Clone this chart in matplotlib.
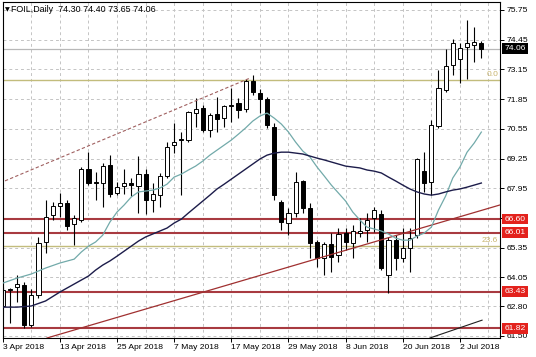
import matplotlib
matplotlib.use("Agg")
import matplotlib.pyplot as plt
import matplotlib.transforms as mtransforms
from matplotlib.patches import Rectangle

plt.rcParams['font.family'] = ['Liberation Sans', 'DejaVu Sans']

# ---- data (daily bars, 3 Apr 2018 .. 5 Jul 2018) ----
symbol = "FOIL,Daily"
last_ohlc = [74.30, 74.40, 73.65, 74.06]

opens = [62.80, 63.50, 63.63, 63.72, 61.96, 63.28, 65.60, 66.78, 67.17, 67.30,
         66.39, 66.56, 68.79, 68.22, 68.18, 68.97, 67.74, 68.05, 68.18, 68.05,
         68.57, 67.43, 67.65, 68.49, 69.84, 70.10, 70.06, 71.24, 71.46, 70.50,
         71.20, 71.02, 71.55, 71.68, 71.42, 72.64, 72.12, 71.86, 70.63, 67.35,
         66.43, 66.87, 68.27, 67.09, 65.60, 64.90, 65.51, 65.03, 65.99, 65.55,
         65.99, 66.12, 66.65, 66.82, 64.15, 65.68, 64.90, 65.33, 65.90, 68.70,
         68.22, 70.67, 72.25, 73.34, 73.61, 74.13, 74.22, 74.30]
highs = [63.63, 63.58, 64.15, 63.85, 63.54, 65.82, 67.43, 67.35, 67.74, 67.43,
         66.78, 68.88, 69.53, 68.66, 69.05, 69.40, 68.22, 68.79, 68.40, 69.36,
         68.79, 68.18, 68.62, 69.97, 70.80, 70.41, 71.33, 71.90, 71.59, 71.24,
         71.94, 71.59, 72.34, 71.90, 72.73, 72.91, 72.29, 71.94, 70.80, 67.43,
         67.09, 68.66, 68.30, 67.30, 65.68, 65.60, 65.99, 66.21, 66.21, 66.34,
         66.65, 66.87, 67.13, 67.00, 65.82, 65.90, 66.21, 66.21, 69.27, 69.53,
         70.94, 73.12, 74.04, 74.48, 74.31, 75.31, 75.01, 74.40]
lows = [62.71, 62.05, 62.97, 61.83, 61.88, 63.15, 65.12, 66.56, 66.69, 66.12,
        65.47, 66.47, 68.09, 67.43, 67.13, 67.57, 67.65, 67.70, 67.61, 66.87,
        66.82, 66.91, 67.13, 68.40, 69.49, 67.65, 69.97, 70.63, 70.41, 70.19,
        70.41, 70.63, 70.85, 71.02, 71.29, 72.03, 71.24, 70.59, 67.43, 66.12,
        65.90, 66.69, 66.87, 64.90, 64.50, 64.15, 64.28, 64.72, 65.25, 64.90,
        65.82, 65.60, 66.04, 64.37, 63.37, 64.37, 64.72, 64.28, 65.77, 67.79,
        67.65, 70.59, 72.16, 72.91, 72.56, 72.73, 73.47, 73.65]
closes = [63.50, 63.54, 63.76, 61.96, 63.28, 65.55, 66.69, 67.17, 67.30, 66.30,
          66.65, 68.79, 68.18, 68.18, 68.92, 67.70, 68.00, 68.18, 68.09, 68.57,
          67.43, 67.70, 68.49, 69.75, 69.97, 70.06, 71.29, 71.42, 70.50, 71.15,
          70.98, 71.55, 71.59, 71.37, 72.64, 72.16, 71.86, 70.72, 67.65, 66.47,
          66.87, 68.22, 67.09, 65.55, 64.90, 65.51, 64.94, 65.95, 65.60, 66.08,
          66.08, 66.56, 67.00, 64.46, 65.68, 64.90, 65.33, 65.77, 69.23, 68.18,
          70.72, 72.34, 73.30, 74.31, 74.09, 74.31, 74.35, 74.06]

# moving averages (light teal = fast, navy = slow)
fast_idx = [0, 2, 4, 6, 8] + list(range(10, 68))
fast_ma = [63.80, 64.02, 64.20, 64.46, 64.68, 64.85, 65.16, 65.42, 65.60, 65.90,
           66.47, 66.91, 67.22, 67.57, 67.79, 67.83, 67.87, 67.96, 68.13, 68.44,
           68.57, 68.75, 68.92, 69.14, 69.40, 69.62, 69.84, 70.06, 70.32, 70.59,
           70.89, 71.11, 71.24, 71.02, 70.76, 70.41, 69.97, 69.58, 69.32, 68.88,
           68.49, 68.09, 67.74, 67.39, 66.91, 66.56, 66.25, 66.17, 66.08, 65.95,
           65.77, 65.68, 65.68, 65.86, 65.99, 66.25, 67.00, 67.61, 68.40, 68.88,
           69.53, 69.93, 70.41]
slow_idx = [0, 2, 4, 6, 8, 10] + list(range(12, 68))
slow_ma = [62.75, 62.75, 62.80, 63.02, 63.41, 63.76, 64.11, 64.37, 64.59, 64.77,
           64.98, 65.20, 65.42, 65.64, 65.82, 65.95, 66.08, 66.21, 66.43, 66.60,
           66.87, 67.13, 67.39, 67.65, 67.92, 68.13, 68.35, 68.57, 68.79, 69.01,
           69.23, 69.40, 69.49, 69.53, 69.53, 69.49, 69.45, 69.36, 69.27, 69.19,
           69.10, 69.01, 68.92, 68.88, 68.84, 68.75, 68.70, 68.62, 68.44, 68.27,
           68.09, 67.92, 67.79, 67.70, 67.65, 67.70, 67.79, 67.87, 67.92, 68.00,
           68.09, 68.18]

date_ticks = [0, 8, 16, 24, 32, 40, 48, 56, 64]
date_labels = ["3 Apr 2018", "13 Apr 2018", "25 Apr 2018", "7 May 2018",
               "17 May 2018", "29 May 2018", "8 Jun 2018", "20 Jun 2018",
               "2 Jul 2018"]

price_ticks = [75.75, 74.45, 73.15, 71.85, 70.55, 69.25, 67.95, 66.65,
               65.35, 64.05, 62.80, 61.50]
price_labels = ["75.75", "74.45", "73.15", "71.85", "70.55", "69.25", "67.95",
                "", "65.35", "64.05", "62.80", "61.50"]

levels = [66.60, 66.01, 63.43, 61.82]
bid = 74.06
fib_levels = [72.69, 65.42]
fib_names = ["0.0", "23.6"]

channel_x, channel_y = [-0.4, 34.6], [68.18, 72.77]
trend_x, trend_y = [6.2, 69.6], [61.40, 67.22]
small_x, small_y = [59.8, 67.1], [61.40, 62.18]

# ---- figure ----
W, H = 536, 357
fig = plt.figure(figsize=(W / 100, H / 100), dpi=100)
fig.patch.set_facecolor("white")
ax = fig.add_axes([2.5 / W, 19 / H, 497.5 / W, 336 / H])
ax.set_xlim(-0.03, 69.61)
ax.set_ylim(61.40, 76.10)

grid_kw = dict(color="#c4c4c4", lw=0.7, ls=(0, (3, 3)), zorder=0)
for i in range(0, 70, 4):
    ax.axvline(i, **grid_kw)
for p in price_ticks:
    ax.axhline(p, **grid_kw)

ax.axhline(bid, color="#b8b8b8", lw=0.9, zorder=1)
for p in fib_levels:
    ax.axhline(p, color="#c2bc7c", lw=1.0, zorder=1)
for p in levels:
    ax.axhline(p, color="#a83a40", lw=1.5, zorder=1)

ax.plot(channel_x, channel_y, color="#a06060", lw=0.8, ls=(0, (3, 2)), zorder=4)
ax.plot(trend_x, trend_y, color="#a03030", lw=0.9, zorder=4)
ax.plot(small_x, small_y, color="#202020", lw=0.8, zorder=4)

# candles
for i in range(len(opens)):
    o, h, l, c = opens[i], highs[i], lows[i], closes[i]
    ax.vlines(i, l, h, color="black", lw=0.8, zorder=2)
    up = c >= o
    ax.bar(i, abs(c - o), bottom=min(o, c), width=0.58,
           color="white" if up else "black", edgecolor="black",
           linewidth=0.7, zorder=2.5)

ax.plot(fast_idx, fast_ma, color="#72aaaa", lw=0.9, zorder=5)
ax.plot(slow_idx, slow_ma, color="#1c1c4a", lw=1.0, zorder=5)

# axes styling
for s in ax.spines.values():
    s.set_color("black")
    s.set_linewidth(0.8)
ax.yaxis.tick_right()
ax.set_yticks(price_ticks)
ax.set_yticklabels(price_labels)
ax.tick_params(axis="y", length=3, width=0.7, pad=2, labelsize=6.1)
ax.set_xticks(date_ticks)
ax.set_xticklabels(date_labels, ha="left")
ax.tick_params(axis="x", length=3, width=0.7, pad=1.5, labelsize=6.1)

# price boxes on the right scale
trans = mtransforms.blended_transform_factory(ax.transAxes, ax.transData)
bw = 26 / 497.5
bh = 10.5 / 22.86
x0 = 1.005
for p, col in [(bid, "black")] + [(p, "#e3221d") for p in levels]:
    ax.add_patch(Rectangle((x0, p - bh / 2), bw, bh, transform=trans,
                           facecolor=col, edgecolor="none", clip_on=False,
                           zorder=10))
    ax.text(x0 + bw / 2, p, f"{p:.2f}", transform=trans, color="white",
            fontsize=6.1, ha="center", va="center", zorder=11, clip_on=False)

# fibo labels
for p, name in zip(fib_levels, fib_names):
    ax.text(0.996, p + 0.1, name, transform=trans, color="#c8b46e",
            fontsize=6, ha="right", va="bottom", zorder=6)

# header
fig.text(5 / W, 1 - 10 / H, "\u25bc", fontsize=4.5, va="center", ha="left",
         family=["DejaVu Sans"])
fig.text(11 / W, 1 - 10 / H,
         symbol + "  " + " ".join(f"{v:.2f}" for v in last_ohlc),
         fontsize=6.4, va="center", ha="left")

fig.savefig("out.png", dpi=100, facecolor="white")
